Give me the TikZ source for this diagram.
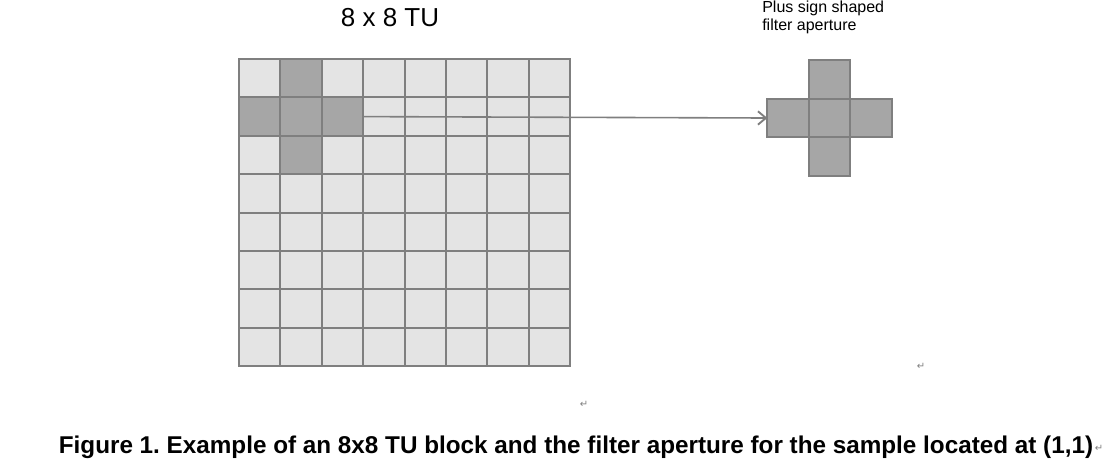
\documentclass[tikz,border=0pt]{standalone}
\usepackage{fontspec}
\setmainfont{Liberation Sans}
\newfontfamily\symfont{DejaVu Sans}
\usetikzlibrary{arrows.meta,positioning}
\definecolor{cellfill}{HTML}{E4E4E4}
\definecolor{apfill}{HTML}{A6A6A6}
\definecolor{cellline}{HTML}{7F7F7F}
\frenchspacing
\begin{document}
\begin{tikzpicture}[x=0.75pt,y=-0.75pt,>={Straight Barb[length=6pt,width=10pt,line width=1.4pt]}]
        % Styles
        \tikzstyle{cell}=[rectangle, draw=cellline, line width=1.4pt, fill=cellfill, minimum width=31.05pt, minimum height=28.8pt, inner sep=0pt, outer sep=0pt]
        \tikzstyle{apcell}=[cell, fill=apfill]
        \tikzstyle{retmark}=[text=gray, font=\symfont\fontsize{7.5}{7.5}\selectfont, inner sep=0pt]

        \useasboundingbox (0,0) rectangle (1109,469);

        % TU block
        \foreach \r in {1,...,8}
          \foreach \c in {1,...,8} {
            \pgfmathtruncatemacro\dist{abs(\r-2)+abs(\c-2)}
            \ifnum\dist<2 \def\sty{apcell}\else\def\sty{cell}\fi
            \node[\sty] (c-\r-\c) at ({239+41.4*(\c-0.5)},{59+38.4*(\r-0.5)}) {};
          }

        % Filter aperture
        \node[apcell] (apc) at (829.5,118) {};
        \node[apcell, above=0pt of apc] (apt) {};
        \node[apcell, below=0pt of apc] (apb) {};
        \node[apcell, left=0pt of apc] (apl) {};
        \node[apcell, right=0pt of apc] (apr) {};

        % Arrow
        \draw[->, draw=cellline, line width=1.2pt] (c-2-3.east) -- (apl.west);

        % Labels
        \node[anchor=base, font=\fontsize{19.5}{23}\selectfont] (title) at (390,26) {8 x 8 TU};
        \node[anchor=base west, font=\fontsize{12}{13.5}\selectfont, inner sep=0pt] (aptext1) at (762,12) {Plus sign shaped};
        \node[anchor=base west, font=\fontsize{12}{13.5}\selectfont, inner sep=0pt] (aptext2) at (762,30) {filter aperture};
        \node[anchor=base, font=\bfseries\fontsize{18.2}{20}\selectfont, inner sep=0pt] (caption) at (576,453) {Figure 1. Example of an 8x8 TU block and the filter aperture for the sample located at (1,1)};

        % Paragraph marks
        \node[retmark] (ret1) at (584,404) {↵};
        \node[retmark] (ret2) at (921,366) {↵};
        \node[retmark] (ret3) at (1099,448) {↵};
\end{tikzpicture}
\end{document}
